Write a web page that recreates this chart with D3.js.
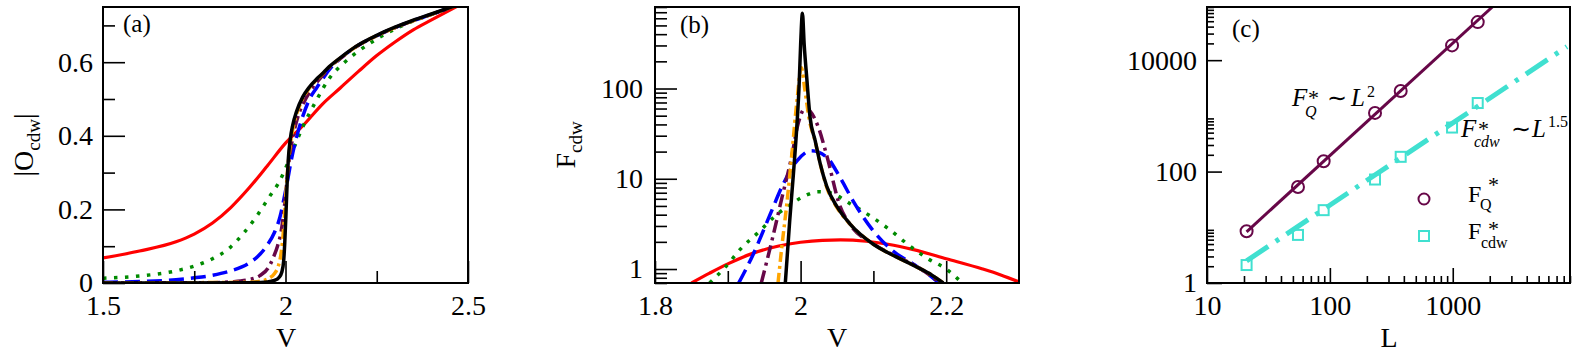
<!DOCTYPE html>
<html>
<head>
<meta charset="utf-8">
<script src="https://cdn.jsdelivr.net/npm/d3@7"></script>
<style>
  body { margin: 0; background: #fff; }
  text { font-family: "Liberation Serif", "Times New Roman", serif; }
</style>
</head>
<body>
<svg id="chart" width="1577" height="356"></svg>
<script>
// ---------- data: panel (a)  |O_cdw| vs V ----------
const aRed = [[1.5,0.068],[1.6,0.087],[1.7,0.112],[1.75,0.133],[1.8,0.163],[1.85,0.205],[1.9,0.258],[1.95,0.318],[2.0,0.38],[2.05,0.43],[2.1,0.485],[2.15,0.53],[2.2,0.575],[2.25,0.618],[2.3,0.655],[2.35,0.688],[2.4,0.715],[2.47,0.752]];
const aGreen = [[1.5,0.013],[1.6,0.019],[1.7,0.033],[1.75,0.046],[1.8,0.066],[1.85,0.098],[1.885,0.135],[1.92,0.18],[1.955,0.233],[1.98,0.27],[1.995,0.3],[2.02,0.36],[2.05,0.43],[2.084,0.495],[2.12,0.556],[2.16,0.598],[2.2,0.63],[2.25,0.663],[2.3,0.69],[2.35,0.712],[2.4,0.73],[2.46,0.752]];
const aBlue = [[1.5,0.002],[1.6,0.004],[1.7,0.009],[1.75,0.014],[1.8,0.021],[1.85,0.033],[1.9,0.054],[1.93,0.078],[1.95,0.103],[1.97,0.138],[1.985,0.18],[1.995,0.225],[2.005,0.275],[2.015,0.33],[2.03,0.395],[2.047,0.452],[2.066,0.5],[2.085,0.53],[2.1,0.552],[2.12,0.58],[2.15,0.61],[2.19,0.64],[2.25,0.672],[2.3,0.694],[2.35,0.713],[2.4,0.73],[2.46,0.752]];
const aMaroon = [[1.5,0],[1.8,0.001],[1.85,0.003],[1.9,0.009],[1.93,0.02],[1.952,0.04],[1.967,0.07],[1.978,0.1],[1.988,0.14],[1.995,0.19],[2.0,0.235],[2.006,0.3],[2.013,0.355],[2.022,0.405],[2.035,0.455],[2.05,0.49],[2.07,0.525],[2.1,0.562],[2.12,0.585],[2.15,0.61],[2.19,0.64],[2.25,0.672],[2.3,0.694],[2.35,0.713],[2.4,0.73],[2.46,0.752]];
const aOrange = [[1.5,0],[1.9,0.002],[1.93,0.005],[1.955,0.013],[1.97,0.026],[1.98,0.045],[1.987,0.075],[1.992,0.115],[1.996,0.165],[2.0,0.225],[2.004,0.285],[2.009,0.34],[2.016,0.395],[2.025,0.44],[2.04,0.485],[2.06,0.522],[2.084,0.551],[2.1,0.567],[2.12,0.587],[2.15,0.611],[2.19,0.64],[2.25,0.672],[2.3,0.694],[2.35,0.713],[2.4,0.73],[2.46,0.752]];
const aBlack = [[1.5,0],[1.9,0.001],[1.95,0.003],[1.97,0.007],[1.982,0.015],[1.99,0.03],[1.995,0.06],[1.998,0.11],[2.001,0.18],[2.004,0.26],[2.008,0.34],[2.013,0.39],[2.02,0.43],[2.03,0.465],[2.047,0.505],[2.065,0.532],[2.084,0.553],[2.1,0.568],[2.12,0.588],[2.15,0.612],[2.19,0.641],[2.25,0.673],[2.3,0.695],[2.35,0.714],[2.4,0.731],[2.46,0.752]];

// ---------- data: panel (b)  F_cdw vs V ----------
const bRed = [[1.85,0.7],[1.875,0.9],[1.9,1.14],[1.935,1.5],[1.97,1.8],[2.0,1.98],[2.03,2.08],[2.055,2.1],[2.09,2.03],[2.12,1.88],[2.155,1.64],[2.2,1.3],[2.25,1.0],[2.275,0.86],[2.3,0.72]];
const bGreen = [[1.875,0.7],[1.898,1.08],[1.917,1.65],[1.944,2.64],[1.967,4.0],[1.985,5.1],[2.008,6.6],[2.024,7.2],[2.04,7.0],[2.068,5.3],[2.095,3.9],[2.123,2.7],[2.15,1.8],[2.175,1.3],[2.2,1.0],[2.222,0.7]];
const bBlue = [[1.915,0.7],[1.935,1.46],[1.958,4.0],[1.976,8.7],[1.995,15.8],[2.015,20.5],[2.036,17.3],[2.054,10.4],[2.072,5.7],[2.1,2.64],[2.127,1.58],[2.155,1.13],[2.175,0.88],[2.19,0.7]];
const bMaroon = [[1.946,0.7],[1.962,2.3],[1.974,6.0],[1.988,18],[1.997,42],[2.006,60],[2.013,56],[2.024,38],[2.036,18],[2.054,5.0],[2.068,3.1],[2.1,1.9],[2.13,1.39],[2.16,1.06],[2.19,0.72]];
const bOrange = [[1.969,0.7],[1.974,1.7],[1.981,5.2],[1.988,18.8],[1.995,73],[2.001,170],[2.006,95],[2.012,45],[2.02,26],[2.027,14.6],[2.036,8],[2.05,4.8],[2.068,3.14],[2.1,1.88],[2.13,1.38],[2.16,1.05],[2.18,0.86],[2.196,0.7]];
const bBlack = [[1.979,0.7],[1.985,3.4],[1.99,11],[1.995,40],[1.998,110],[2.0,300],[2.0025,680],[2.005,300],[2.0084,133],[2.013,48],[2.02,26.5],[2.027,14.6],[2.036,8.2],[2.05,4.9],[2.068,3.15],[2.1,1.88],[2.13,1.38],[2.16,1.05],[2.18,0.86],[2.196,0.7]];

// ---------- data: panel (c)  scaling with L ----------
const cL = [21, 55, 89, 233, 377, 987, 1597];
const cFQ = [8.5, 53, 153, 1130, 2800, 18400, 48200];
const cFcdw = [2.1, 7.3, 20.3, 72, 184, 617, 1700];
const fitQ = [[21, 8.3], [2100, 90000]];
const fitCdw = [[21, 2.5], [8500, 17500]];

// ---------- tick values ----------
const aXMajor = [1.5, 2, 2.5], aXMinor = [1.75, 2.25];
const aYMajor = [0, 0.2, 0.4, 0.6], aYMinor = [0.1, 0.3, 0.5, 0.7];
const bXMajor = [1.8, 2, 2.2], bXMinor = [1.9, 2.1];
const bYMajor = [1, 10, 100];
const bYMinor = [0.7, 0.8, 0.9, 2, 3, 4, 5, 6, 7, 8, 9, 20, 30, 40, 50, 60, 70, 80, 90, 200, 300, 400, 500, 600, 700, 800];
const cXMajor = [10, 100, 1000];
const cXMinor = [20, 30, 40, 50, 60, 70, 80, 90, 200, 300, 400, 500, 600, 700, 800, 900, 2000, 3000, 4000, 5000, 6000, 7000, 8000, 9000];
const cYMajor = [1, 100, 10000];
const cYMinor = [2, 3, 4, 5, 6, 7, 8, 9, 200, 300, 400, 500, 600, 700, 800, 900, 20000, 30000, 40000, 50000, 60000, 70000, 80000, 90000];

const RED = '#ff0000', GREEN = '#008b00', BLUE = '#0000ff', MAROON = '#670748', ORANGE = '#ffa500', TURQ = '#40e0d0';

const svg = d3.select('#chart');
const TOP = 7, BOTTOM = 283;

function axes(g, x, y, o) {
    let ax = (gen, vals, len, pad, labels) => gen.tickValues(vals).tickSize(-len).tickPadding(pad)
        .tickFormat(labels ? (d => String(d)) : '');
    let gx1 = g.append('g').attr('transform', `translate(0,${BOTTOM})`)
        .call(ax(d3.axisBottom(x), o.xMinor, o.minLen, 0, false));
    let gx2 = g.append('g').attr('transform', `translate(0,${BOTTOM})`)
        .call(ax(d3.axisBottom(x), o.xMajor, o.majLen, 12, true));
    let gy1 = g.append('g').attr('transform', `translate(${x.range()[0]},0)`)
        .call(ax(d3.axisLeft(y), o.yMinor, o.minLen, 0, false));
    let gy2 = g.append('g').attr('transform', `translate(${x.range()[0]},0)`)
        .call(ax(d3.axisLeft(y), o.yMajor, o.majLen, o.yPad, true));
    [gx1, gx2, gy1, gy2].forEach(s => {
        s.select('.domain').remove();
        s.selectAll('line').attr('stroke', '#000').attr('stroke-width', 1.6);
        s.selectAll('text').attr('font-size', 28).attr('fill', '#000');
    });
    let [l, r] = x.range();
    g.append('rect').attr('x', l).attr('y', TOP).attr('width', r - l).attr('height', BOTTOM - TOP)
        .attr('fill', 'none').attr('stroke', '#000').attr('stroke-width', 2);
}

function clip(id, x) {
    let [l, r] = x.range();
    svg.append('clipPath').attr('id', id).append('rect')
        .attr('x', l).attr('y', TOP).attr('width', r - l).attr('height', BOTTOM - TOP);
}

function curve(g, data, x, y, color, width, dash) {
    let line = d3.line().x(d => x(d[0])).y(d => y(d[1])).curve(d3.curveMonotoneX);
    g.append('path').datum(data).attr('d', line)
        .attr('fill', 'none').attr('stroke', color).attr('stroke-width', width)
        .attr('stroke-dasharray', dash || null);
}

function txt(x, y, s, size, opts = {}) {
    return svg.append('text').attr('x', x).attr('y', y).text(s)
        .attr('font-size', size).attr('fill', '#000')
        .attr('font-style', opts.italic ? 'italic' : null)
        .attr('text-anchor', opts.anchor || null);
}

// one text element made of absolutely placed pieces (sub/superscripts)
function rich(parts) {
    let t = svg.append('text').attr('fill', '#000');
    parts.forEach(p => {
        t.append('tspan').attr('x', p[0]).attr('y', p[1]).attr('font-size', p[3])
            .attr('font-style', p[4] ? 'italic' : null).text(p[2]);
    });
    return t;
}

// ---------- panel (a) ----------
const xA = d3.scaleLinear().domain([1.5, 2.5]).range([103, 468]);
const yA = d3.scaleLinear().domain([0, 0.75]).range([BOTTOM, TOP]);
clip('clipA', xA);
const gA = svg.append('g');
const cA = gA.append('g').attr('clip-path', 'url(#clipA)');
curve(cA, aRed, xA, yA, RED, 3.2);
curve(cA, aGreen, xA, yA, GREEN, 3.5, '3.5 7.5');
curve(cA, aBlue, xA, yA, BLUE, 3.5, '15 7');
curve(cA, aMaroon, xA, yA, MAROON, 3.5, '13 5 3 5');
curve(cA, aOrange, xA, yA, ORANGE, 3.5, '10 4 3 4');
curve(cA, aBlack, xA, yA, '#000', 3.5);
axes(gA, xA, yA, { xMajor: aXMajor, xMinor: aXMinor, yMajor: aYMajor, yMinor: aYMinor, majLen: 22, minLen: 12, yPad: 10 });
txt(123, 32, '(a)', 25);
txt(286, 347, 'V', 28, { anchor: 'middle' });
let labA = svg.append('text').attr('transform', 'translate(33,145) rotate(-90)')
    .attr('text-anchor', 'middle').attr('font-size', 28);
labA.append('tspan').text('|O');
labA.append('tspan').attr('font-size', 19).attr('dy', 7).text('cdw');
labA.append('tspan').attr('dy', -7).text('|');

// ---------- panel (b) ----------
const xB = d3.scaleLinear().domain([1.8, 2.3]).range([655, 1019]);
const yB = d3.scaleLog().domain([0.7, 800]).range([BOTTOM, TOP]);
clip('clipB', xB);
const gB = svg.append('g');
const cB = gB.append('g').attr('clip-path', 'url(#clipB)');
curve(cB, bRed, xB, yB, RED, 3.2);
curve(cB, bGreen, xB, yB, GREEN, 3.5, '3.5 7.5');
curve(cB, bBlue, xB, yB, BLUE, 3.5, '15 7');
curve(cB, bMaroon, xB, yB, MAROON, 3.5, '13 5 3 5');
curve(cB, bOrange, xB, yB, ORANGE, 3.5, '10 4 3 4');
curve(cB, bBlack, xB, yB, '#000', 3.5);
axes(gB, xB, yB, { xMajor: bXMajor, xMinor: bXMinor, yMajor: bYMajor, yMinor: bYMinor, majLen: 22, minLen: 12, yPad: 12 });
txt(680, 33, '(b)', 25);
txt(837, 347, 'V', 28, { anchor: 'middle' });
let labB = svg.append('text').attr('transform', 'translate(575,145) rotate(-90)')
    .attr('text-anchor', 'middle').attr('font-size', 28);
labB.append('tspan').text('F');
labB.append('tspan').attr('font-size', 19).attr('dy', 7).text('cdw');

// ---------- panel (c) ----------
const xC = d3.scaleLog().domain([10, 9000]).range([1207, 1570]);
const yC = d3.scaleLog().domain([1, 90000]).range([BOTTOM, TOP]);
clip('clipC', xC);
const gC = svg.append('g');
const cC = gC.append('g').attr('clip-path', 'url(#clipC)');
cC.append('path').datum(fitQ)
    .attr('d', d3.line().x(d => xC(d[0])).y(d => yC(d[1])))
    .attr('fill', 'none').attr('stroke', MAROON).attr('stroke-width', 3);
cC.append('path').datum(fitCdw)
    .attr('d', d3.line().x(d => xC(d[0])).y(d => yC(d[1])))
    .attr('fill', 'none').attr('stroke', TURQ).attr('stroke-width', 5)
    .attr('stroke-dasharray', '26 9 4 9');
cC.selectAll('circle.q').data(d3.zip(cL, cFQ)).join('circle')
    .attr('cx', d => xC(d[0])).attr('cy', d => yC(d[1])).attr('r', 6)
    .attr('fill', 'none').attr('stroke', MAROON).attr('stroke-width', 2);
cC.selectAll('rect.s').data(d3.zip(cL, cFcdw)).join('rect')
    .attr('x', d => xC(d[0]) - 5).attr('y', d => yC(d[1]) - 5).attr('width', 10).attr('height', 10)
    .attr('fill', 'none').attr('stroke', TURQ).attr('stroke-width', 2);
axes(gC, xC, yC, { xMajor: cXMajor, xMinor: cXMinor, yMajor: cYMajor, yMinor: cYMinor, majLen: 15, minLen: 7, yPad: 10 });
txt(1232, 37, '(c)', 25);
txt(1389, 347, 'L', 28, { anchor: 'middle' });

// fit annotations
rich([[1292, 106, 'F', 25, true], [1308, 105, '*', 22], [1305, 117, 'Q', 16, true],
      [1327, 106, '\u223C', 24], [1351, 106, 'L', 25, true], [1367, 97, '2', 16]]);
rich([[1461, 137, 'F', 25, true], [1478, 136, '*', 22], [1474, 147, 'cdw', 16, true],
      [1511, 137, '\u223C', 24], [1532, 137, 'L', 25, true], [1548, 127, '1.5', 16]]);

// legend
svg.append('circle').attr('cx', 1424).attr('cy', 199).attr('r', 5.5)
    .attr('fill', 'none').attr('stroke', MAROON).attr('stroke-width', 2);
rich([[1468, 202, 'F', 24], [1488, 192, '*', 22], [1480, 210, 'Q', 16]]);
svg.append('rect').attr('x', 1419).attr('y', 231).attr('width', 10).attr('height', 10)
    .attr('fill', 'none').attr('stroke', TURQ).attr('stroke-width', 2);
rich([[1468, 239, 'F', 24], [1488, 236, '*', 22], [1481, 248, 'cdw', 16]]);
</script>
</body>
</html>
